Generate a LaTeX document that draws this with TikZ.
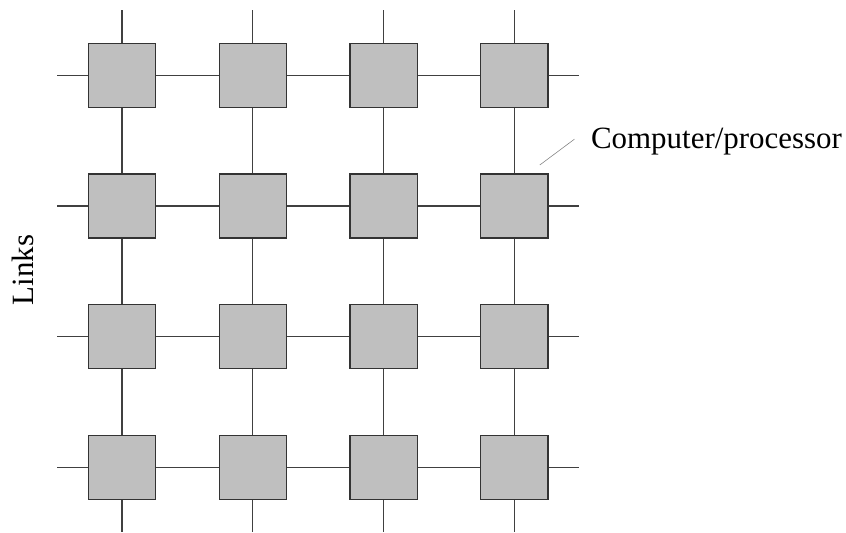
\documentclass[tikz,border=0pt]{standalone}
\usepackage{fontspec}
\setmainfont{Liberation Serif}
\usetikzlibrary{positioning}

\begin{document}
\begin{tikzpicture}[font=\fontsize{22}{26}\selectfont]
\tikzstyle{pe}=[draw=black!80,fill=black!25,line width=0.9pt,minimum width=1.68cm,minimum height=1.6cm,inner sep=0pt]
\tikzstyle{link}=[draw=black!75,line width=0.9pt]
\useasboundingbox (0,0) rectangle (21.15,13.3);
% processors
\foreach \c in {1,...,4} \foreach \r in {1,...,4} \node[pe] (p\c\r) at ({3.05+3.27*(\c-1)},{11.42-3.27*(\r-1)}) {};
% free ends of the links
\foreach \r in {1,...,4} {
  \coordinate (w\r) at ([xshift=-1.62cm]p1\r.center);
  \coordinate (e\r) at ([xshift=1.62cm]p4\r.center);
}
\foreach \c in {1,...,4} {
  \coordinate (n\c) at ([yshift=1.62cm]p\c1.center);
  \coordinate (s\c) at (p\c4.center |- 0,0);
}
% links
\foreach \r in {1,...,4} \draw[link] (w\r) -- (p1\r) -- (p2\r) -- (p3\r) -- (p4\r) -- (e\r);
\foreach \c in {1,...,4} \draw[link] (n\c) -- (p\c1) -- (p\c2) -- (p\c3) -- (p\c4) -- (s\c);
% labels
\node[anchor=base west,inner sep=0pt] (cp) at (14.77,9.59) {Computer/processor};
\coordinate (lead) at ([xshift=-0.22cm,yshift=0.21cm]p42.north east);
\draw[black!50,line width=0.4pt] (lead) -- ([xshift=-0.41cm,yshift=0.23cm]cp.base west);
\node[rotate=90,anchor=base,inner sep=0pt] (lk) at (0.83,6.55) {Links};
\end{tikzpicture}
\end{document}
